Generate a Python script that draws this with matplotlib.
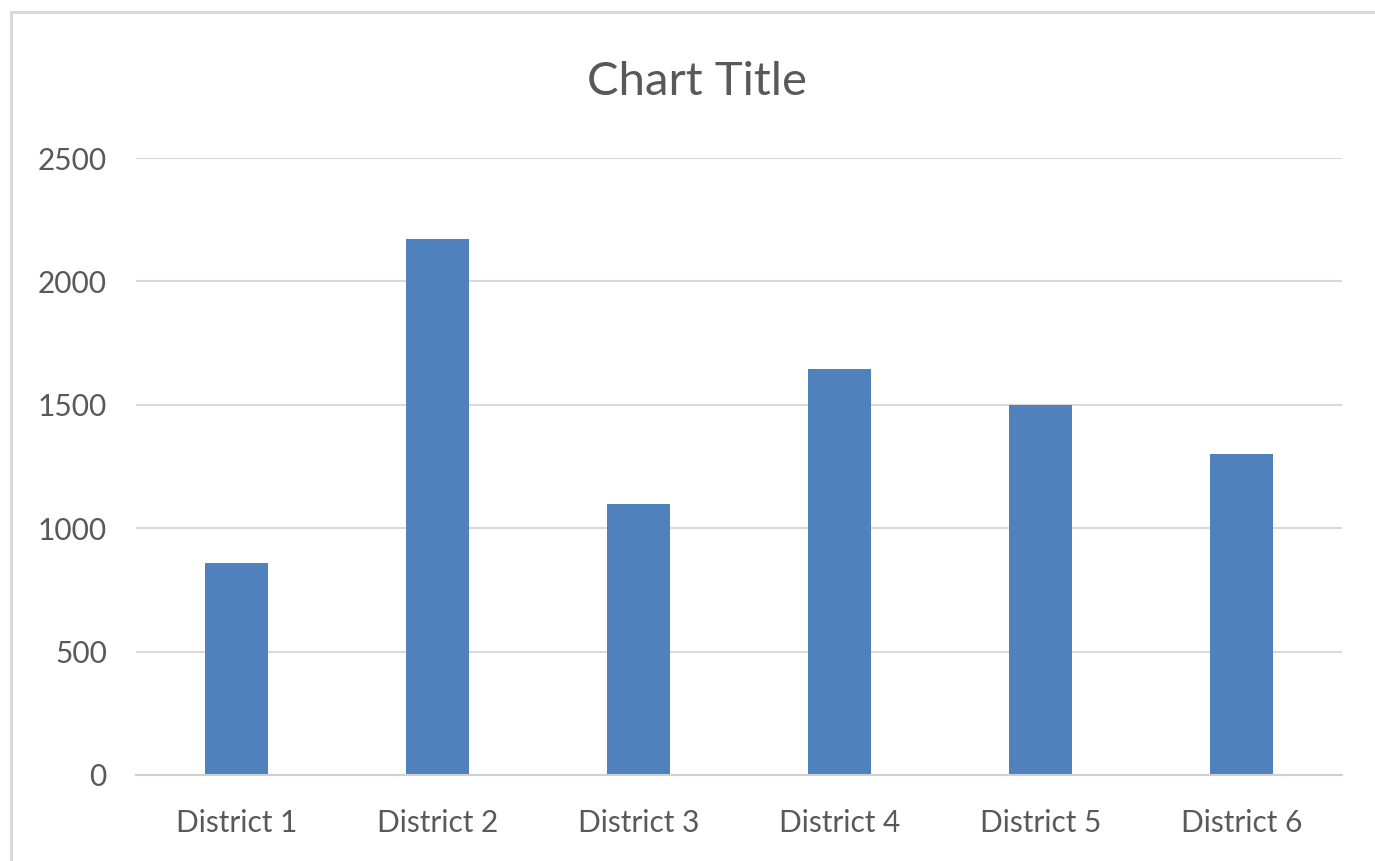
import matplotlib
matplotlib.use("Agg")
import matplotlib.pyplot as plt
from matplotlib.lines import Line2D

categories = ["District 1", "District 2", "District 3", "District 4", "District 5", "District 6"]
values = [860, 2170, 1100, 1645, 1500, 1300]
yticks = [0, 500, 1000, 1500, 2000, 2500]

plt.rcParams['font.family'] = ['Lato', 'DejaVu Sans']

W, H = 1375, 861
fig = plt.figure(figsize=(W / 100, H / 100), dpi=100)
fig.patch.set_facecolor('white')

ax = fig.add_axes([136 / W, (H - 775) / H, (1342 - 136) / W, (775 - 158) / H])
x = list(range(len(categories)))
ax.bar(x, values, width=0.31, color='#4F81BD', zorder=3)
ax.set_xlim(-0.5, len(categories) - 0.5)
ax.set_ylim(0, 2500)
ax.set_yticks(yticks)
ax.set_yticklabels([str(v) for v in yticks])
ax.set_xticks(x)
ax.set_xticklabels(categories)
ax.grid(axis='y', color='#D9D9D9', linewidth=1.5, zorder=0)
for s in ['top', 'right', 'left']:
    ax.spines[s].set_visible(False)
ax.spines['bottom'].set_color('#D0D0D0')
ax.spines['bottom'].set_linewidth(1.5)
ax.spines['bottom'].set_zorder(4)
ax.tick_params(axis='both', length=0, colors='#595959', labelsize=21.5)
ax.tick_params(axis='y', pad=21)
ax.tick_params(axis='x', pad=24.5)

fig.text(697 / W, 1 - 82 / H, "Chart Title", ha='center', va='center',
         fontsize=34, color='#595959')

# outer chart border (top and left visible)
fig.add_artist(Line2D([11 / W, 1.0], [1 - 12 / H, 1 - 12 / H], color='#D9D9D9', linewidth=2.2,
                      transform=fig.transFigure))
fig.add_artist(Line2D([11 / W, 11 / W], [1 - 12 / H, 0.0], color='#D9D9D9', linewidth=2.2,
                      transform=fig.transFigure))

fig.savefig("out.png", dpi=100, facecolor='white')
